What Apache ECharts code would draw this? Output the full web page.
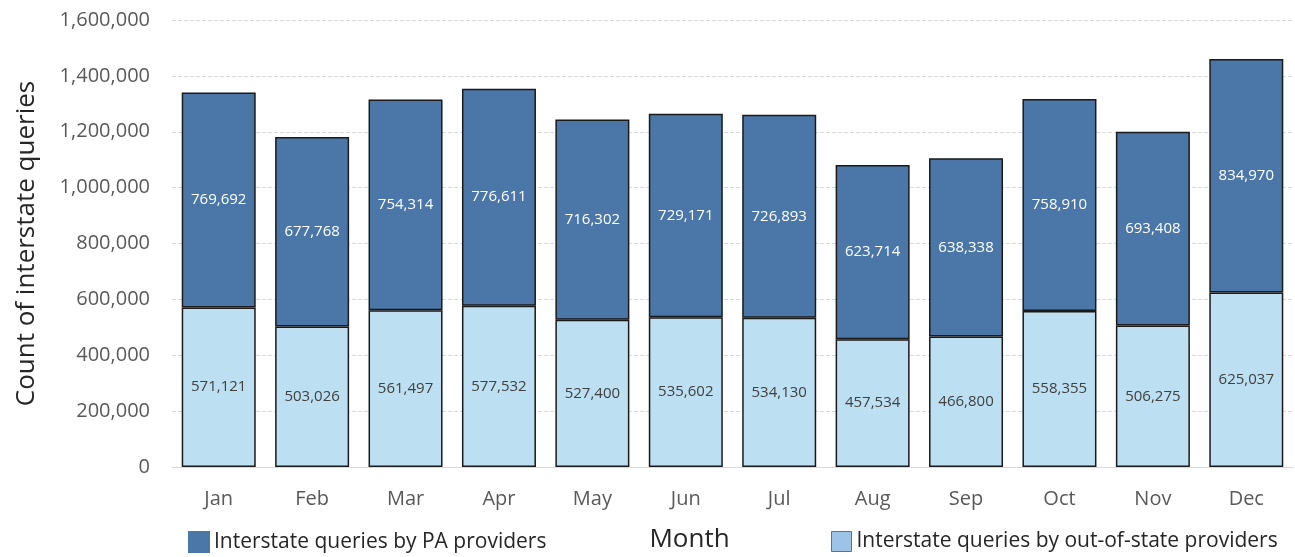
<!DOCTYPE html>
<html>
<head>
<meta charset="utf-8">
<script src="https://cdn.jsdelivr.net/npm/echarts@6/dist/echarts.min.js"></script>
<style>
  html, body { margin: 0; padding: 0; background: #fff; }
  #chart { width: 1295px; height: 557px; }
</style>
</head>
<body>
<div id="chart"></div>
<script>
const months = ['Jan', 'Feb', 'Mar', 'Apr', 'May', 'Jun', 'Jul', 'Aug', 'Sep', 'Oct', 'Nov', 'Dec'];
const outOfState = [571121, 503026, 561497, 577532, 527400, 535602, 534130, 457534, 466800, 558355, 506275, 625037];
const paProviders = [769692, 677768, 754314, 776611, 716302, 729171, 726893, 623714, 638338, 758910, 693408, 834970];

const fontFam = '"Open Sans", "DejaVu Sans", sans-serif';
const fmt = v => v.toLocaleString('en-US');

const chart = echarts.init(document.getElementById('chart'));

chart.setOption({
    animation: false,
    textStyle: { fontFamily: fontFam },
    grid: { left: 172, right: 2, top: 20, bottom: 90, containLabel: false, outerBoundsMode: 'none' },
    legend: [
        {
            left: 183, top: 526,
            itemWidth: 20, itemHeight: 20, itemGap: 10,
            icon: 'rect',
            textStyle: { fontSize: 21, color: '#262626', fontFamily: fontFam },
            data: [{ name: 'Interstate queries by PA providers', itemStyle: { color: '#4a77a8', borderColor: '#4a77a8' } }]
        },
        {
            left: 826, top: 526,
            itemWidth: 20, itemHeight: 20,
            icon: 'rect',
            textStyle: { fontSize: 21, color: '#262626', fontFamily: fontFam },
            data: [{ name: 'Interstate queries by out-of-state providers', itemStyle: { color: '#9dc3e6', borderColor: '#4a77a8', borderWidth: 1 } }]
        }
    ],
    xAxis: {
        type: 'category',
        data: months,
        name: 'Month',
        nameLocation: 'middle',
        nameGap: 60,
        // shift the axis title left, as in the original layout
        nameTextStyle: { fontSize: 26, color: '#262626', fontFamily: fontFam, padding: [0, 86, 0, 0] },
        axisTick: { show: false },
        axisLine: { show: true, lineStyle: { color: '#d9d9d9' } },
        axisLabel: { fontSize: 20, color: '#595959', margin: 22, fontFamily: fontFam }
    },
    yAxis: {
        type: 'value',
        min: 0, max: 1600000, interval: 200000,
        name: 'Count of interstate queries',
        nameLocation: 'middle',
        nameGap: 132,
        nameTextStyle: { fontSize: 26, color: '#262626', fontFamily: fontFam },
        axisLabel: { fontSize: 20, color: '#595959', margin: 22, formatter: fmt, fontFamily: fontFam },
        splitLine: { lineStyle: { color: '#d9d9d9', type: 'dashed' } }
    },
    series: [
        {
            name: 'Interstate queries by out-of-state providers',
            type: 'bar',
            stack: 'total',
            barWidth: 74,
            data: outOfState,
            itemStyle: { color: '#bcdff2', borderColor: '#1a1a1a', borderWidth: 1.5 },
            label: { show: true, position: 'inside', fontSize: 15, color: '#404040', formatter: p => fmt(p.value), fontFamily: fontFam }
        },
        {
            name: 'Interstate queries by PA providers',
            type: 'bar',
            stack: 'total',
            barWidth: 74,
            data: paProviders,
            itemStyle: { color: '#4a77a8', borderColor: '#1a1a1a', borderWidth: 1.5 },
            label: { show: true, position: 'inside', fontSize: 15, color: '#ffffff', formatter: p => fmt(p.value), fontFamily: fontFam }
        }
    ]
});
</script>
</body>
</html>
